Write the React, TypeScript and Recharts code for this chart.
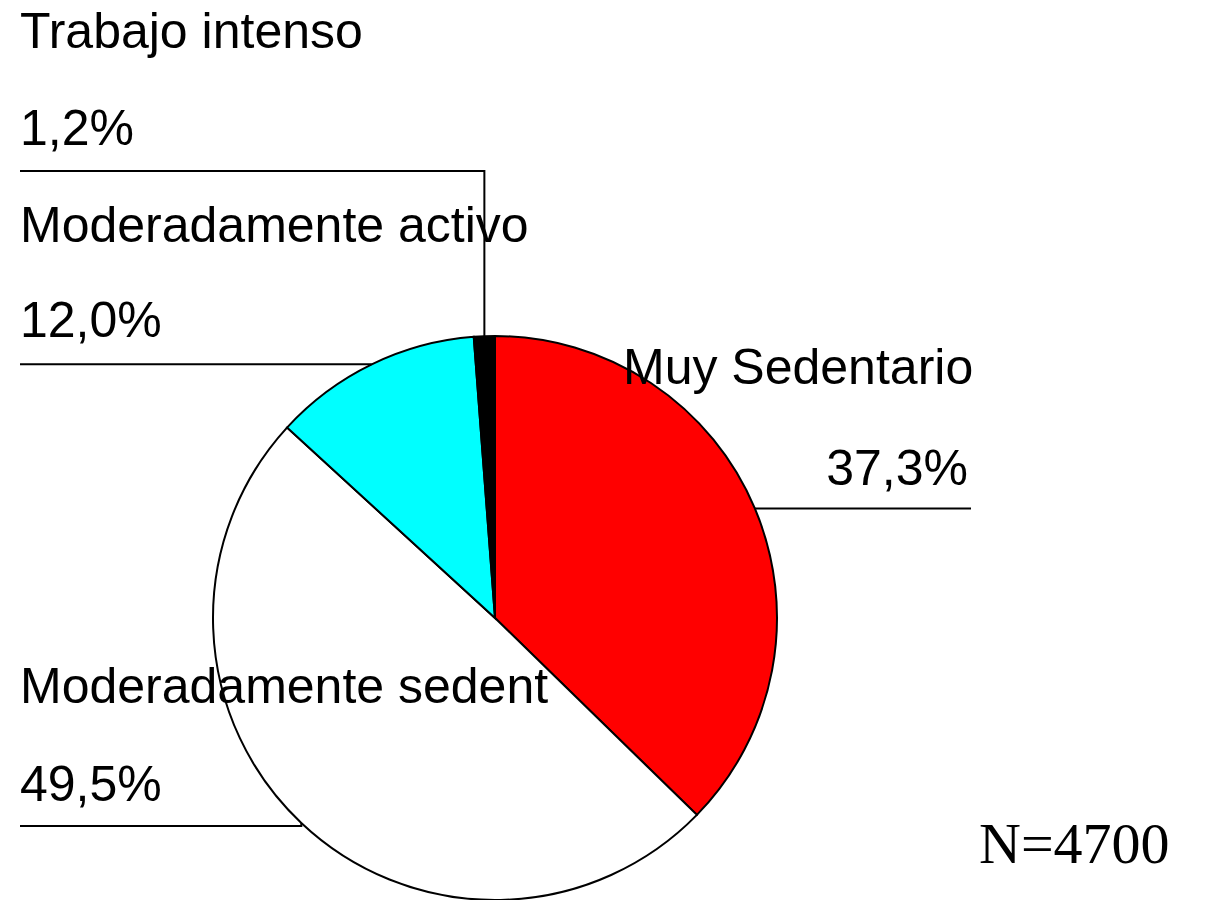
import { Pie, PieChart } from "recharts";

// Activity level distribution, N=4700
const categories = ["Muy Sedentario", "Moderadamente sedent", "Moderadamente activo", "Trabajo intenso"];
const shares = [37.3, 49.5, 12.0, 1.2];
const sliceColors = ["#ff0000", "#ffffff", "#00ffff", "#000000"];
const shareLabels = ["37,3%", "49,5%", "12,0%", "1,2%"];

const data = categories.map((name, i) => ({ name, value: shares[i], fill: sliceColors[i] }));

// where each label block sits (name baseline, % baseline, leader line y, line end x)
const labelLayout = [
  { nameX: 623, nameY: 384, pctX: 968, pctY: 485, anchor: "end", lineY: null as number | null, lineEnd: 971 },
  { nameX: 20, nameY: 703, pctX: 20, pctY: 801, anchor: "start", lineY: 826, lineEnd: 20 },
  { nameX: 20, nameY: 242, pctX: 20, pctY: 337, anchor: "start", lineY: null, lineEnd: 20 },
  { nameX: 20, nameY: 48, pctX: 20, pctY: 145, anchor: "start", lineY: 171, lineEnd: 20 },
];

const FONT = "'Liberation Sans', Arial, sans-serif";
const RADIAN = Math.PI / 180;

function SliceLabel(props: any) {
  const { cx, cy, midAngle, outerRadius, index } = props;
  const l = labelLayout[index];
  const ex = cx + outerRadius * Math.cos(-midAngle * RADIAN);
  const ey = cy + outerRadius * Math.sin(-midAngle * RADIAN);
  const ly = l.lineY ?? ey;
  return (
    <g>
      <polyline
        points={`${l.lineEnd},${ly} ${ex},${ly} ${ex},${ey}`}
        fill="none"
        stroke="#000"
        strokeWidth={2}
      />
      <text x={l.nameX} y={l.nameY} fontFamily={FONT} fontSize={50} fill="#000">
        {categories[index]}
      </text>
      <text x={l.pctX} y={l.pctY} textAnchor={l.anchor as any} fontFamily={FONT} fontSize={50} fill="#000">
        {shareLabels[index]}
      </text>
    </g>
  );
}

export default function App() {
  return (
    <div style={{ position: "absolute", left: 0, top: 0, width: 1228, height: 900, background: "#fff" }}>
      <PieChart width={1228} height={900} margin={{ top: 0, right: 0, bottom: 0, left: 0 }}>
        <Pie
          data={data}
          dataKey="value"
          nameKey="name"
          cx={495}
          cy={618}
          outerRadius={282}
          startAngle={90}
          endAngle={-270}
          stroke="#000"
          strokeWidth={2}
          label={SliceLabel}
          labelLine={false}
          isAnimationActive={false}
        />
        <text x={979} y={863} fontFamily="'Liberation Serif', 'Times New Roman', serif" fontSize={58} fill="#000">
          N=4700
        </text>
      </PieChart>
    </div>
  );
}
